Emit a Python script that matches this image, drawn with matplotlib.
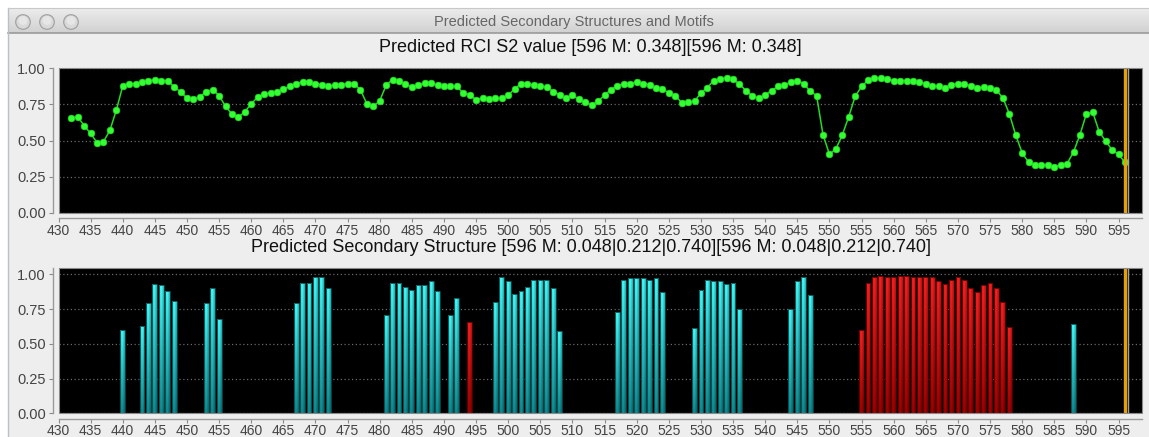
import numpy as np
import matplotlib
matplotlib.use("Agg")
import matplotlib.pyplot as plt
from matplotlib.patches import Rectangle, Circle
from matplotlib.ticker import FormatStrFormatter

# ---- RCI S2 order parameter per residue (432..596) ----
s2_start = 432
s2_values = [
    0.655, 0.664, 0.602, 0.549, 0.485, 0.492, 0.570, 0.710, 0.878, 0.894,
    0.894, 0.903, 0.910, 0.922, 0.915, 0.913, 0.871, 0.837, 0.793, 0.784,
    0.802, 0.839, 0.853, 0.811, 0.736, 0.683, 0.662, 0.699, 0.754, 0.800,
    0.821, 0.830, 0.839, 0.855, 0.874, 0.894, 0.906, 0.906, 0.894, 0.885,
    0.876, 0.883, 0.883, 0.894, 0.894, 0.851, 0.754, 0.736, 0.775, 0.883,
    0.922, 0.913, 0.892, 0.869, 0.883, 0.897, 0.897, 0.883, 0.876, 0.874,
    0.874, 0.828, 0.816, 0.782, 0.795, 0.786, 0.793, 0.793, 0.814, 0.857,
    0.894, 0.894, 0.883, 0.876, 0.869, 0.839, 0.816, 0.791, 0.814, 0.784,
    0.766, 0.745, 0.772, 0.814, 0.853, 0.878, 0.894, 0.894, 0.903, 0.894,
    0.885, 0.867, 0.855, 0.832, 0.809, 0.763, 0.766, 0.772, 0.828, 0.867,
    0.915, 0.926, 0.936, 0.924, 0.892, 0.844, 0.811, 0.791, 0.816, 0.846,
    0.874, 0.885, 0.903, 0.915, 0.894, 0.841, 0.811, 0.540, 0.405, 0.441,
    0.538, 0.664, 0.805, 0.874, 0.917, 0.931, 0.931, 0.924, 0.915, 0.915,
    0.915, 0.913, 0.903, 0.894, 0.876, 0.876, 0.867, 0.885, 0.894, 0.890,
    0.878, 0.867, 0.869, 0.862, 0.848, 0.795, 0.685, 0.538, 0.414, 0.349,
    0.329, 0.331, 0.331, 0.317, 0.329, 0.340, 0.421, 0.540, 0.685, 0.694,
    0.559, 0.497, 0.434, 0.405, 0.348,
]
s2_residues = list(range(s2_start, s2_start + len(s2_values)))

# ---- secondary structure probabilities ----
strand_residues = [440, 443, 444, 445, 446, 447, 448,
                   453, 454, 455,
                   467, 468, 469, 470, 471, 472,
                   481, 482, 483, 484, 485, 486, 487, 488, 489,
                   491, 492,
                   498, 499, 500, 501, 502, 503, 504, 505, 506, 507, 508,
                   517, 518, 519, 520, 521, 522, 523, 524,
                   529, 530, 531, 532, 533, 534, 535, 536,
                   544, 545, 546, 547,
                   588]
strand_values = [0.60, 0.63, 0.79, 0.93, 0.92, 0.88, 0.81,
                 0.79, 0.90, 0.68,
                 0.79, 0.94, 0.94, 0.98, 0.98, 0.90,
                 0.71, 0.94, 0.94, 0.91, 0.89, 0.92, 0.92, 0.95, 0.88,
                 0.71, 0.83,
                 0.80, 0.98, 0.95, 0.86, 0.88, 0.91, 0.96, 0.96, 0.96, 0.90, 0.59,
                 0.73, 0.96, 0.97, 0.97, 0.97, 0.96, 0.97, 0.87,
                 0.61, 0.89, 0.96, 0.95, 0.95, 0.93, 0.94, 0.75,
                 0.75, 0.95, 0.98, 0.85,
                 0.64]
helix_residues = [494, 555, 556, 557, 558, 559, 560, 561, 562, 563, 564, 565,
                  566, 567, 568, 569, 570, 571, 572, 573, 574, 575, 576, 577, 578]
helix_values = [0.66, 0.60, 0.94, 0.98, 0.99, 0.98, 0.98, 0.99, 0.99, 0.98, 0.98, 0.98,
                0.98, 0.95, 0.93, 0.96, 0.98, 0.96, 0.90, 0.87, 0.92, 0.94, 0.90, 0.80, 0.62]

marker_residue = 596
x_ticks = list(range(430, 600, 5))
y_ticks = [0.0, 0.25, 0.5, 0.75, 1.0]

window_title = "Predicted Secondary Structures and Motifs"
s2_title = "Predicted RCI S2 value [596 M: 0.348][596 M: 0.348]"
ss_title = "Predicted Secondary Structure [596 M: 0.048|0.212|0.740][596 M: 0.048|0.212|0.740]"

W, H = 1149, 437
fig = plt.figure(figsize=(W / 100, H / 100), dpi=100)
fig.patch.set_facecolor("white")

# ---- window chrome, drawn in pixel coordinates ----
bg = fig.add_axes([0, 0, 1, 1], zorder=0)
bg.set_xlim(0, W)
bg.set_ylim(H, 0)
bg.axis("off")
bg.add_patch(Rectangle((8, 33), W - 8, H - 33, facecolor="#eeeeee", edgecolor="none"))
grad = np.linspace(0, 1, 64)[:, None]
bar_rgb = np.array([0.925, 0.925, 0.925]) * (1 - grad[..., None]) + np.array([0.82, 0.82, 0.82]) * grad[..., None]
bar_rgb = np.repeat(bar_rgb, 4, axis=1)
bg.imshow(bar_rgb, extent=(8, W, 33, 8), aspect="auto", interpolation="bilinear", zorder=1)
bg.plot([8, W], [33, 33], color="#9a9a9a", lw=1.2, zorder=2)
bg.plot([8, 8], [8, H], color="#b8c0c8", lw=1.0, zorder=2)
bg.plot([8, W], [8, 8], color="#c8c8c8", lw=0.8, zorder=2)
for cx in (23, 47, 71):
    bg.add_patch(Circle((cx, 22), 7.3, facecolor="#d9d9d9", edgecolor="#a3a3a3", lw=0.9, zorder=3))
    bg.add_patch(Circle((cx, 20.5), 4.5, facecolor="#e6e6e6", edgecolor="none", zorder=3))
bg.text(574, 22, window_title, ha="center", va="center", fontsize=10.5,
        family=["Liberation Sans Narrow", "Liberation Sans"], color="#666666", zorder=4)
bg.text(590, 48, s2_title, ha="center", va="center", fontsize=13,
        family="Liberation Sans", color="#111111", zorder=4)
bg.text(591, 248, ss_title, ha="center", va="center", fontsize=13,
        family="Liberation Sans", color="#111111", zorder=4)

xlim = (430, 598.7)


def style_axes(ax, ylim):
    ax.set_facecolor("black")
    ax.set_xlim(*xlim)
    ax.set_ylim(*ylim)
    ax.set_xticks(x_ticks)
    ax.set_yticks(y_ticks)
    ax.yaxis.set_major_formatter(FormatStrFormatter("%.2f"))
    ax.grid(axis="y", color="#6a6a6a", linestyle=(0, (1, 2)), linewidth=0.9)
    ax.set_axisbelow(True)
    for side in ("top", "right"):
        ax.spines[side].set_visible(False)
    for side in ("left", "bottom"):
        ax.spines[side].set_position(("outward", 4))
        ax.spines[side].set_color("#9a9a9a")
        ax.spines[side].set_linewidth(1.0)
    ax.tick_params(axis="y", length=3, width=0.8, color="#8a8a8a", pad=2,
                   labelsize=10.5, labelcolor="#444444")
    ax.tick_params(axis="x", length=3, width=0.8, color="#8a8a8a", pad=1,
                   labelsize=10, labelcolor="#444444")
    for lab in ax.get_xticklabels() + ax.get_yticklabels():
        lab.set_family("Liberation Sans")
    ax.add_patch(Rectangle((0, 0), 1, 1, transform=ax.transAxes, facecolor="none",
                           edgecolor="#8a8a8a", lw=0.8, zorder=6, clip_on=False))
    # residue marker
    ax.axvline(marker_residue, color="#e3a008", lw=2.4, zorder=5)
    ax.axvline(marker_residue + 0.45, color="#a0a0a0", lw=1.0, zorder=5)


# ---- top panel: S2 line ----
ax1 = fig.add_axes([58.5 / W, 1 - 212.7 / H, (1142.3 - 58.5) / W, (212.7 - 68.3) / H], zorder=2)
style_axes(ax1, (0, 1.0))
ax1.plot(s2_residues, s2_values, color="#22dd22", lw=1.1, marker="o", ms=4.8,
         mfc="#33ff33", mec="#22dd22", mew=0.5, zorder=4)

# ---- bottom panel: secondary structure bars ----
ax2 = fig.add_axes([58.5 / W, 1 - 413.3 / H, (1142.3 - 58.5) / W, (413.3 - 268.3) / H], zorder=2)
style_axes(ax2, (0, 1.043))


def gradient_bars(ax, xs, vals, top_rgb, bottom_rgb, edge):
    bars = ax.bar(xs, vals, width=0.75, color="none", edgecolor=edge, linewidth=0.6, zorder=4)
    v = np.linspace(0, 1, 64)[:, None, None]          # 0 at bottom .. 1 at top
    u = np.linspace(0, 1, 16)[None, :, None]          # across the bar
    top = np.array(top_rgb)[None, None, :]
    bot = np.array(bottom_rgb)[None, None, :]
    col = bot + (top - bot) * v
    shade = 0.72 + 0.28 * np.sin(np.pi * np.clip(u * 1.15, 0, 1))
    img = np.clip(col * shade, 0, 1)
    for p in bars.patches:
        x0, y0 = p.get_x(), p.get_y()
        w, h = p.get_width(), p.get_height()
        im = ax.imshow(img, extent=(x0, x0 + w, y0, y0 + h), origin="lower",
                       aspect="auto", interpolation="bilinear", zorder=3)
        im.set_clip_path(p)
    return bars


gradient_bars(ax2, strand_residues, strand_values,
              (0.25, 1.0, 1.0), (0.05, 0.55, 0.58), "#0c4a4a")
gradient_bars(ax2, helix_residues, helix_values,
              (1.0, 0.12, 0.12), (0.62, 0.0, 0.0), "#5a0000")
ax2.set_xlim(*xlim)
ax2.set_ylim(0, 1.043)

fig.savefig("out.png", dpi=100, facecolor=fig.get_facecolor())
